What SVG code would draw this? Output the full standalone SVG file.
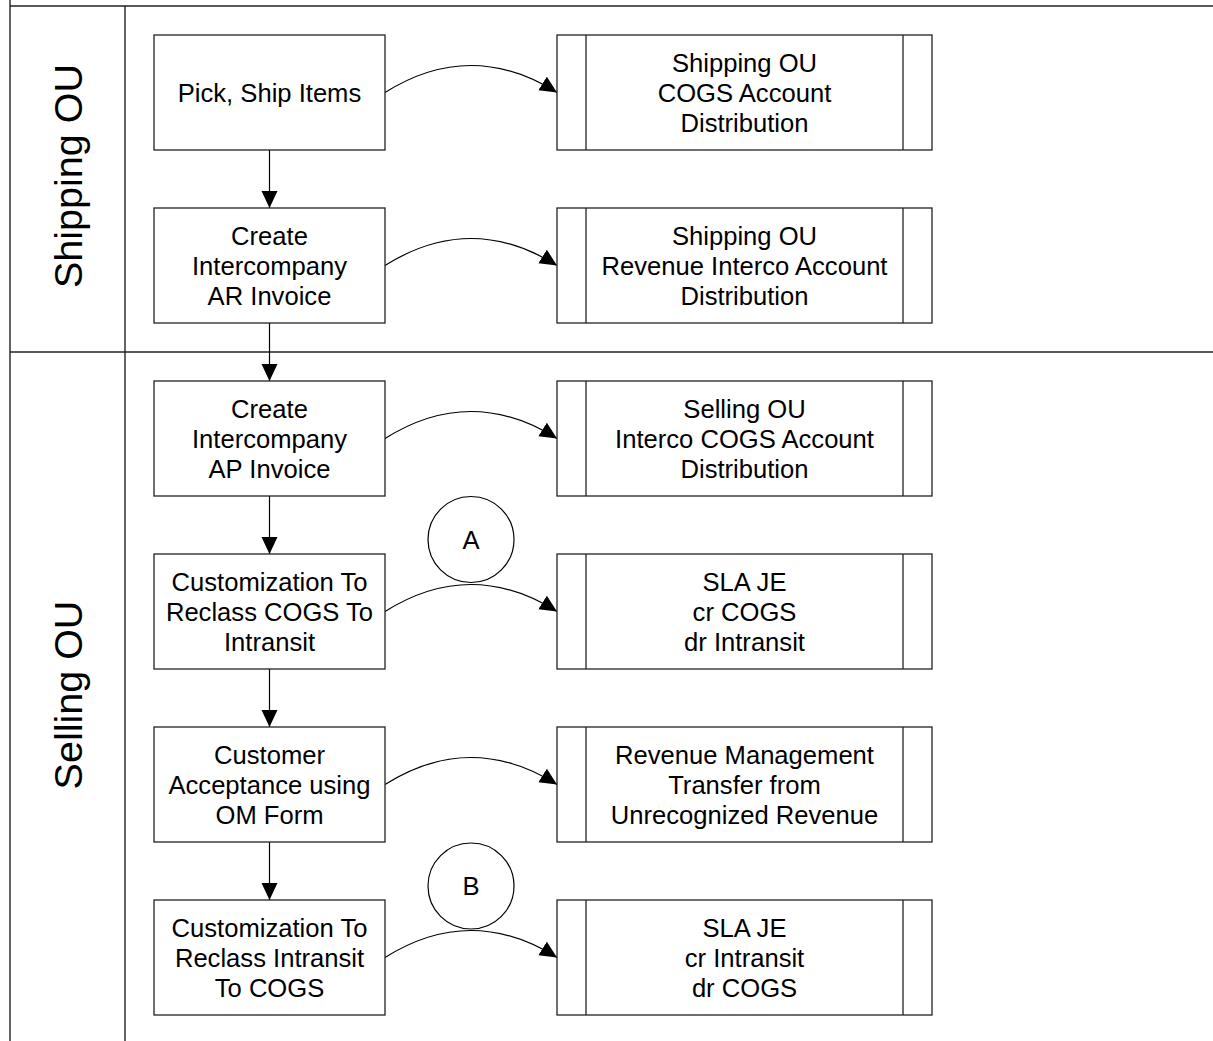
<svg xmlns="http://www.w3.org/2000/svg" width="1213" height="1041" viewBox="0 0 1213 1041">
<style>
.lane{stroke:#222;stroke-width:1.4;fill:none}
.box{fill:#fff;stroke:#222;stroke-width:1.3}
.t{font-family:"Liberation Sans",Arial,sans-serif;font-size:25.6px;fill:#000;text-anchor:middle}
.lt{font-family:"Liberation Sans",Arial,sans-serif;font-size:39.5px;fill:#000;text-anchor:middle}
.c{fill:none;stroke:#000;stroke-width:1.2}
</style>
<defs>
<marker id="ah" markerUnits="userSpaceOnUse" markerWidth="18" markerHeight="17" refX="17" refY="8" orient="auto">
<path d="M0,0 L17,8 L0,16 z" fill="#000"/>
</marker>
</defs>
<rect width="1213" height="1041" fill="#fff"/>
<g id="lanes">
<line class="lane" x1="10" y1="0" x2="10" y2="1041"/>
<line class="lane" x1="10" y1="6" x2="1213" y2="6"/>
<line class="lane" x1="125" y1="6" x2="125" y2="1041"/>
<line class="lane" x1="10" y1="352" x2="1213" y2="352"/>
<text class="lt" transform="translate(82,176) rotate(-90)">Shipping OU</text>
<text class="lt" transform="translate(82,695) rotate(-90)">Selling OU</text>
</g>
<g id="connectors">
<line class="c" x1="269.5" y1="150" x2="269.5" y2="208" marker-end="url(#ah)"/>
<line class="c" x1="269.5" y1="323" x2="269.5" y2="381" marker-end="url(#ah)"/>
<line class="c" x1="269.5" y1="496" x2="269.5" y2="554" marker-end="url(#ah)"/>
<line class="c" x1="269.5" y1="669" x2="269.5" y2="727" marker-end="url(#ah)"/>
<line class="c" x1="269.5" y1="842" x2="269.5" y2="900" marker-end="url(#ah)"/>
<path class="c" d="M385,92.5 Q471,38.5 557,92.5" marker-end="url(#ah)"/>
<path class="c" d="M385,265.5 Q471,211.5 557,265.5" marker-end="url(#ah)"/>
<path class="c" d="M385,438.5 Q471,384.5 557,438.5" marker-end="url(#ah)"/>
<path class="c" d="M385,611.5 Q471,557.5 557,611.5" marker-end="url(#ah)"/>
<path class="c" d="M385,784.5 Q471,730.5 557,784.5" marker-end="url(#ah)"/>
<path class="c" d="M385,957.5 Q471,903.5 557,957.5" marker-end="url(#ah)"/>
</g>
<g id="n1"><rect class="box" x="154" y="35" width="231" height="115"/><text class="t" x="269.5" y="101.5">Pick, Ship Items</text></g>
<g id="n2"><rect class="box" x="154" y="208" width="231" height="115"/><text class="t" x="269.5" y="244.5">Create</text><text class="t" x="269.5" y="274.5">Intercompany</text><text class="t" x="269.5" y="304.5">AR Invoice</text></g>
<g id="n3"><rect class="box" x="154" y="381" width="231" height="115"/><text class="t" x="269.5" y="417.5">Create</text><text class="t" x="269.5" y="447.5">Intercompany</text><text class="t" x="269.5" y="477.5">AP Invoice</text></g>
<g id="n4"><rect class="box" x="154" y="554" width="231" height="115"/><text class="t" x="269.5" y="590.5">Customization To</text><text class="t" x="269.5" y="620.5">Reclass COGS To</text><text class="t" x="269.5" y="650.5">Intransit</text></g>
<g id="n5"><rect class="box" x="154" y="727" width="231" height="115"/><text class="t" x="269.5" y="763.5">Customer</text><text class="t" x="269.5" y="793.5">Acceptance using</text><text class="t" x="269.5" y="823.5">OM Form</text></g>
<g id="n6"><rect class="box" x="154" y="900" width="231" height="115"/><text class="t" x="269.5" y="936.5">Customization To</text><text class="t" x="269.5" y="966.5">Reclass Intransit</text><text class="t" x="269.5" y="996.5">To COGS</text></g>
<g id="r1"><rect class="box" x="557" y="35" width="375" height="115"/><line class="box" x1="586" y1="35" x2="586" y2="150"/><line class="box" x1="903" y1="35" x2="903" y2="150"/><text class="t" x="744.5" y="71.5">Shipping OU</text><text class="t" x="744.5" y="101.5">COGS Account</text><text class="t" x="744.5" y="131.5">Distribution</text></g>
<g id="r2"><rect class="box" x="557" y="208" width="375" height="115"/><line class="box" x1="586" y1="208" x2="586" y2="323"/><line class="box" x1="903" y1="208" x2="903" y2="323"/><text class="t" x="744.5" y="244.5">Shipping OU</text><text class="t" x="744.5" y="274.5">Revenue Interco Account</text><text class="t" x="744.5" y="304.5">Distribution</text></g>
<g id="r3"><rect class="box" x="557" y="381" width="375" height="115"/><line class="box" x1="586" y1="381" x2="586" y2="496"/><line class="box" x1="903" y1="381" x2="903" y2="496"/><text class="t" x="744.5" y="417.5">Selling OU</text><text class="t" x="744.5" y="447.5">Interco COGS Account</text><text class="t" x="744.5" y="477.5">Distribution</text></g>
<g id="r4"><rect class="box" x="557" y="554" width="375" height="115"/><line class="box" x1="586" y1="554" x2="586" y2="669"/><line class="box" x1="903" y1="554" x2="903" y2="669"/><text class="t" x="744.5" y="590.5">SLA JE</text><text class="t" x="744.5" y="620.5">cr COGS</text><text class="t" x="744.5" y="650.5">dr Intransit</text></g>
<g id="r5"><rect class="box" x="557" y="727" width="375" height="115"/><line class="box" x1="586" y1="727" x2="586" y2="842"/><line class="box" x1="903" y1="727" x2="903" y2="842"/><text class="t" x="744.5" y="763.5">Revenue Management</text><text class="t" x="744.5" y="793.5">Transfer from</text><text class="t" x="744.5" y="823.5">Unrecognized Revenue</text></g>
<g id="r6"><rect class="box" x="557" y="900" width="375" height="115"/><line class="box" x1="586" y1="900" x2="586" y2="1015"/><line class="box" x1="903" y1="900" x2="903" y2="1015"/><text class="t" x="744.5" y="936.5">SLA JE</text><text class="t" x="744.5" y="966.5">cr Intransit</text><text class="t" x="744.5" y="996.5">dr COGS</text></g>
<g id="cA"><circle cx="471" cy="539.5" r="43" fill="#fff" stroke="#000" stroke-width="1.2"/><text class="t" x="471" y="548.5">A</text></g>
<g id="cB"><circle cx="471" cy="886" r="43" fill="#fff" stroke="#000" stroke-width="1.2"/><text class="t" x="471" y="895">B</text></g>
</svg>
